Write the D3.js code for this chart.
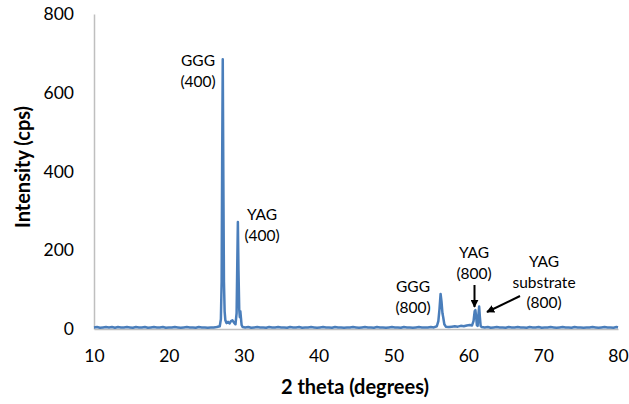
<!DOCTYPE html>
<html><head><meta charset="utf-8">
<script src="https://cdn.jsdelivr.net/npm/d3@7"></script>
<style>
body{margin:0;background:#fff;}
svg{display:block;font-family:Lato,"Open Sans",sans-serif;}
</style></head><body>
<script>
// ---- data ----
const twoTheta = [
10.0,10.4,10.8,11.2,11.6,12.0,12.4,12.8,13.2,13.6,14.0,14.4,14.8,15.2,15.6,16.0,16.4,16.8,17.2,17.6,
18.0,18.4,18.8,19.2,19.6,20.0,20.4,20.8,21.2,21.6,22.0,22.4,22.8,23.2,23.6,24.0,24.4,24.8,25.2,25.6,
26.0,26.4,26.8,26.95,27.05,27.12,27.2,27.28,27.36,27.45,27.55,27.7,27.9,28.1,28.3,28.5,28.7,28.9,
29.05,29.15,29.22,29.3,29.4,29.48,29.55,29.62,29.72,29.85,
30.2,30.6,31.0,31.4,31.8,32.2,32.6,33.0,33.4,33.8,34.2,34.6,35.0,35.4,35.8,36.2,36.6,37.0,37.4,37.8,
38.2,38.6,39.0,39.4,39.8,40.2,40.6,41.0,41.4,41.8,42.2,42.6,43.0,43.4,43.8,44.2,44.6,45.0,45.4,45.8,
46.2,46.6,47.0,47.4,47.8,48.2,48.6,49.0,49.4,49.8,50.2,50.6,51.0,51.4,51.8,52.2,52.6,53.0,53.4,53.8,
54.2,54.6,55.0,55.4,55.8,56.0,56.15,56.3,56.42,56.55,56.65,56.8,57.0,
57.4,57.8,58.2,58.6,59.0,59.4,59.8,60.2,60.5,60.7,60.85,60.95,61.05,61.15,61.25,61.35,61.45,61.55,61.65,61.8,
62.2,62.6,63.0,63.4,63.8,64.2,64.6,65.0,65.4,65.8,66.2,66.6,67.0,67.4,67.8,68.2,68.6,69.0,69.4,69.8,
70.2,70.6,71.0,71.4,71.8,72.2,72.6,73.0,73.4,73.8,74.2,74.6,75.0,75.4,75.8,76.2,76.6,77.0,77.4,77.8,
78.2,78.6,79.0,79.4,79.8,80.0
];
const intensity = [
4,5,3,4,5,4,5,3,5,4,4,5,4,3,5,4,4,5,3,4,
5,4,4,5,3,4,4,5,4,3,4,5,4,4,3,5,4,4,3,4,
4,5,7,25,120,420,685,380,120,45,22,15,18,14,20,22,16,12,
40,180,272,150,50,30,45,30,10,5,
4,5,3,4,5,4,4,3,5,4,4,5,4,4,3,5,4,4,5,3,
4,4,5,4,3,4,5,4,4,3,5,4,4,3,4,4,5,4,3,4,
5,4,4,3,5,4,4,3,4,5,4,4,3,5,4,4,3,4,5,4,
4,4,5,4,7,20,50,89,70,40,30,12,6,
5,6,7,6,8,7,9,10,9,20,45,48,30,10,8,35,57,30,8,5,
4,5,3,4,5,4,4,3,5,4,4,5,4,4,3,5,4,4,5,3,
4,4,5,4,3,4,5,4,4,3,5,4,4,3,4,4,5,4,3,4,
5,4,4,3,5,4
];
const xTicks = [10,20,30,40,50,60,70,80];
const yTicks = [0,200,400,600,800];
const xTitle = "2 theta (degrees)";
const yTitle = "Intensity (cps)";
const annotations = [
  {lines:["GGG","(400)"], x:198, y:66},
  {lines:["YAG","(400)"], x:262, y:220},
  {lines:["GGG","(800)"], x:413, y:292},
  {lines:["YAG","(800)"], x:474, y:258},
  {lines:["YAG","substrate","(800)"], x:544, y:267}
];

// ---- chart ----
const W=629,H=404;
const svg=d3.select("body").append("svg").attr("width",W).attr("height",H);
const x=d3.scaleLinear().domain([10,80]).range([94,618]);
const y=d3.scaleLinear().domain([0,800]).range([329,14]);

const ya=svg.append("g").attr("transform","translate(94,0)")
  .call(d3.axisLeft(y).tickValues(yTicks).tickSize(0).tickPadding(20));
ya.select(".domain").attr("stroke","#bfbfbf").attr("stroke-width",1.5);
ya.selectAll("text").attr("font-size",17.5).attr("fill","#000").attr("font-family","Lato");

const xa=svg.append("g").attr("transform","translate(0,329)")
  .call(d3.axisBottom(x).tickValues(xTicks).tickSize(0).tickPadding(21));
xa.select(".domain").attr("stroke","#bfbfbf").attr("stroke-width",1.5);
xa.selectAll("text").attr("font-size",17.5).attr("fill","#000").attr("font-family","Lato");

const pts=twoTheta.map((t,i)=>[t,intensity[i]]);
svg.append("path").datum(pts)
  .attr("fill","none").attr("stroke","#4a7ebb").attr("stroke-width",2.5)
  .attr("stroke-linejoin","round")
  .attr("d",d3.line().x(d=>x(d[0])).y(d=>y(d[1])));

svg.append("text").attr("x",355).attr("y",394).attr("text-anchor","middle")
  .attr("font-size",20).attr("font-weight","bold").text(xTitle);
svg.append("text").attr("transform","translate(30,167) rotate(-90)").attr("text-anchor","middle")
  .attr("font-size",20).attr("font-weight","bold").text(yTitle);

annotations.forEach(a=>{
  const t=svg.append("text").attr("text-anchor","middle").attr("font-size",15.5);
  a.lines.forEach((l,i)=>t.append("tspan").attr("x",a.x).attr("y",a.y+i*20.5).text(l));
});

// arrows
const defs=svg.append("defs");
defs.append("marker").attr("id","ah").attr("viewBox","0 0 10 10").attr("refX",9).attr("refY",5)
  .attr("markerWidth",4).attr("markerHeight",4).attr("orient","auto")
  .append("path").attr("d","M0,0 L10,5 L0,10 z").attr("fill","#000");
svg.append("line").attr("x1",474.5).attr("y1",285).attr("x2",474.5).attr("y2",307)
  .attr("stroke","#000").attr("stroke-width",2).attr("marker-end","url(#ah)");
svg.append("line").attr("x1",520).attr("y1",296).attr("x2",487).attr("y2",312)
  .attr("stroke","#000").attr("stroke-width",2).attr("marker-end","url(#ah)");
</script>
</body></html>
